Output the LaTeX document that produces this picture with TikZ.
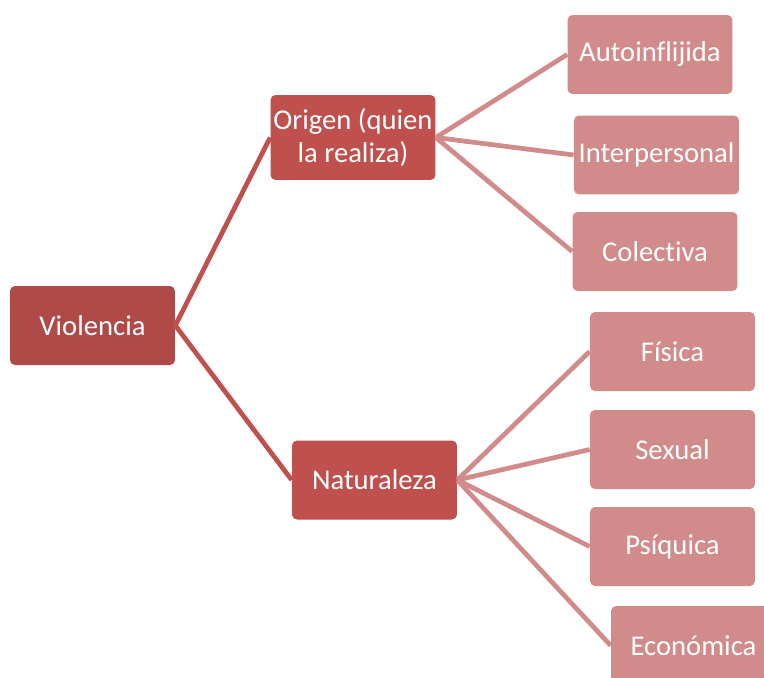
\documentclass[tikz,border=0pt]{standalone}
\usepackage{fontspec}
\setmainfont{Carlito}[Ligatures=NoCommon]
\definecolor{rootred}{HTML}{AE4A47}
\definecolor{midred}{HTML}{C0504D}
\definecolor{leafred}{HTML}{D08B8A}
\tikzset{
  box/.style={rounded corners=0.1cm, inner sep=0pt, minimum width=3.3cm,
    minimum height=1.58cm, text=white, align=center,
    font=\fontsize{16.3}{19}\selectfont},
  rootbox/.style={box, fill=rootred},
  midbox/.style={box, fill=midred},
  leafbox/.style={box, fill=leafred},
  midlink/.style={draw=midred, line width=2.7pt},
  leaflink/.style={draw=leafred, line width=2.7pt}
}
\begin{document}
\begin{tikzpicture}[x=0.02cm,y=-0.02cm]
\useasboundingbox (0,0) rectangle (764,677);
\clip (0,0) rectangle (764,677);
\node[rootbox] (violencia) at (92.5,325.5) {Violencia};
\node[midbox, minimum height=1.7cm] (origen) at (353,137.5) {Origen (quien\\la realiza)};
\node[midbox] (naturaleza) at (374.5,480) {Naturaleza};
\node[leafbox] (auto) at (650,54.5) {Autoinflijida};
\node[leafbox] (inter) at (656.5,155) {Interpersonal};
\node[leafbox] (colec) at (655,251.5) {Colectiva};
\node[leafbox] (fisica) at (672.5,351.5) {Física};
\node[leafbox] (sexual) at (672.5,449.5) {Sexual};
\node[leafbox] (psiq) at (672.5,546.5) {Psíquica};
\node[leafbox] (econ) at (693.5,645.5) {Económica};
% first level
\draw[midlink] (origen.west) -- (violencia.east) -- (naturaleza.west);
% second level
\foreach \leaf in {auto,inter,colec}
  \draw[leaflink] (origen.east) -- (\leaf.west);
\foreach \leaf in {fisica,sexual,psiq,econ}
  \draw[leaflink] (naturaleza.east) -- (\leaf.west);
\end{tikzpicture}
\end{document}
